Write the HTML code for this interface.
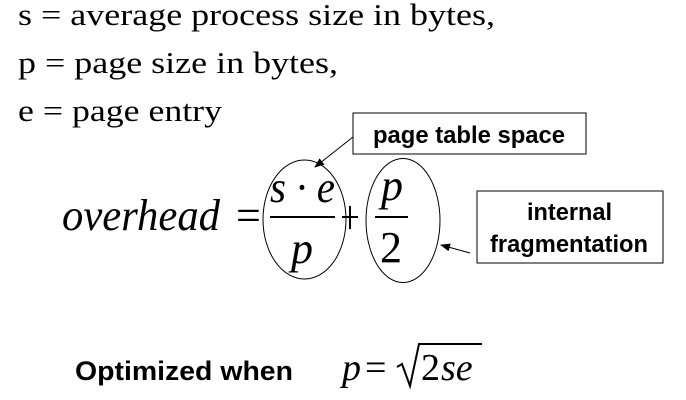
<!DOCTYPE html>
<html><head><meta charset="utf-8"><style>
html,body{margin:0;padding:0;background:#fff;}
svg{display:block;}
text{fill:#000;}
.t{font-family:"Liberation Serif",serif;}
.i{font-family:"Liberation Serif",serif;font-style:italic;}
.b{font-family:"Liberation Sans",sans-serif;font-weight:bold;}
</style></head><body>
<svg width="686" height="400" viewBox="0 0 686 400" xmlns="http://www.w3.org/2000/svg">
<defs><marker id="a" markerWidth="10" markerHeight="8" refX="9" refY="4" orient="auto" markerUnits="userSpaceOnUse"><path d="M0,0 L10,4 L0,8 Z" fill="#000"/></marker></defs>
<text class="t" style="font-size:31px" x="18" y="25" textLength="477" lengthAdjust="spacingAndGlyphs">s = average process size in bytes,</text>
<text class="t" style="font-size:31px" x="18" y="73" textLength="320" lengthAdjust="spacingAndGlyphs">p = page size in bytes,</text>
<text class="t" style="font-size:31px" x="18" y="121" textLength="204" lengthAdjust="spacingAndGlyphs">e = page entry</text>

<rect x="353" y="113" width="233" height="41" fill="#fff" stroke="#000" stroke-width="1"/>
<text class="b" style="font-size:24px" x="373" y="143" textLength="192" lengthAdjust="spacingAndGlyphs">page table space</text>
<line x1="353" y1="137" x2="315" y2="167" stroke="#000" stroke-width="1" marker-end="url(#a)"/>

<text class="i" style="font-size:44px" x="62" y="230" textLength="158" lengthAdjust="spacingAndGlyphs">overhead</text>
<text class="t" style="font-size:44px" x="236" y="230">=</text>
<ellipse cx="304.5" cy="219.5" rx="41.5" ry="59.5" fill="none" stroke="#000" stroke-width="1"/>
<ellipse cx="403" cy="220.5" rx="37" ry="62" fill="none" stroke="#000" stroke-width="1"/>
<text class="i" style="font-size:44px" x="270" y="202" textLength="65" lengthAdjust="spacingAndGlyphs">s · e</text>
<line x1="270" y1="217" x2="335" y2="217" stroke="#000" stroke-width="2"/>
<text class="i" style="font-size:44px" x="302" y="263" text-anchor="middle">p</text>
<line x1="342" y1="217" x2="358" y2="217" stroke="#000" stroke-width="2"/>
<line x1="350" y1="206" x2="350" y2="229" stroke="#000" stroke-width="2"/>
<text class="i" style="font-size:44px" x="392" y="200" text-anchor="middle">p</text>
<line x1="375" y1="217" x2="408" y2="217" stroke="#000" stroke-width="2"/>
<text class="t" style="font-size:44px" x="391" y="262" text-anchor="middle">2</text>

<rect x="477" y="191" width="186" height="72" fill="#fff" stroke="#000" stroke-width="1"/>
<text class="b" style="font-size:24px" x="527" y="220" textLength="85" lengthAdjust="spacingAndGlyphs">internal</text>
<text class="b" style="font-size:24px" x="490" y="252" textLength="158" lengthAdjust="spacingAndGlyphs">fragmentation</text>
<line x1="470" y1="253" x2="441" y2="245" stroke="#000" stroke-width="1" marker-end="url(#a)"/>

<text class="b" style="font-size:27px" x="75" y="380" textLength="218" lengthAdjust="spacingAndGlyphs">Optimized when</text>
<text class="i" style="font-size:38px" x="342" y="380">p</text>
<text class="t" style="font-size:38px" x="365" y="380">=</text>
<path d="M397,367 L402,364 L410,386 L419,344 L482,344" fill="none" stroke="#000" stroke-width="2"/>
<text class="t" style="font-size:38px" x="421" y="380">2</text>
<text class="i" style="font-size:38px" x="441" y="380">se</text>
</svg>
</body></html>
